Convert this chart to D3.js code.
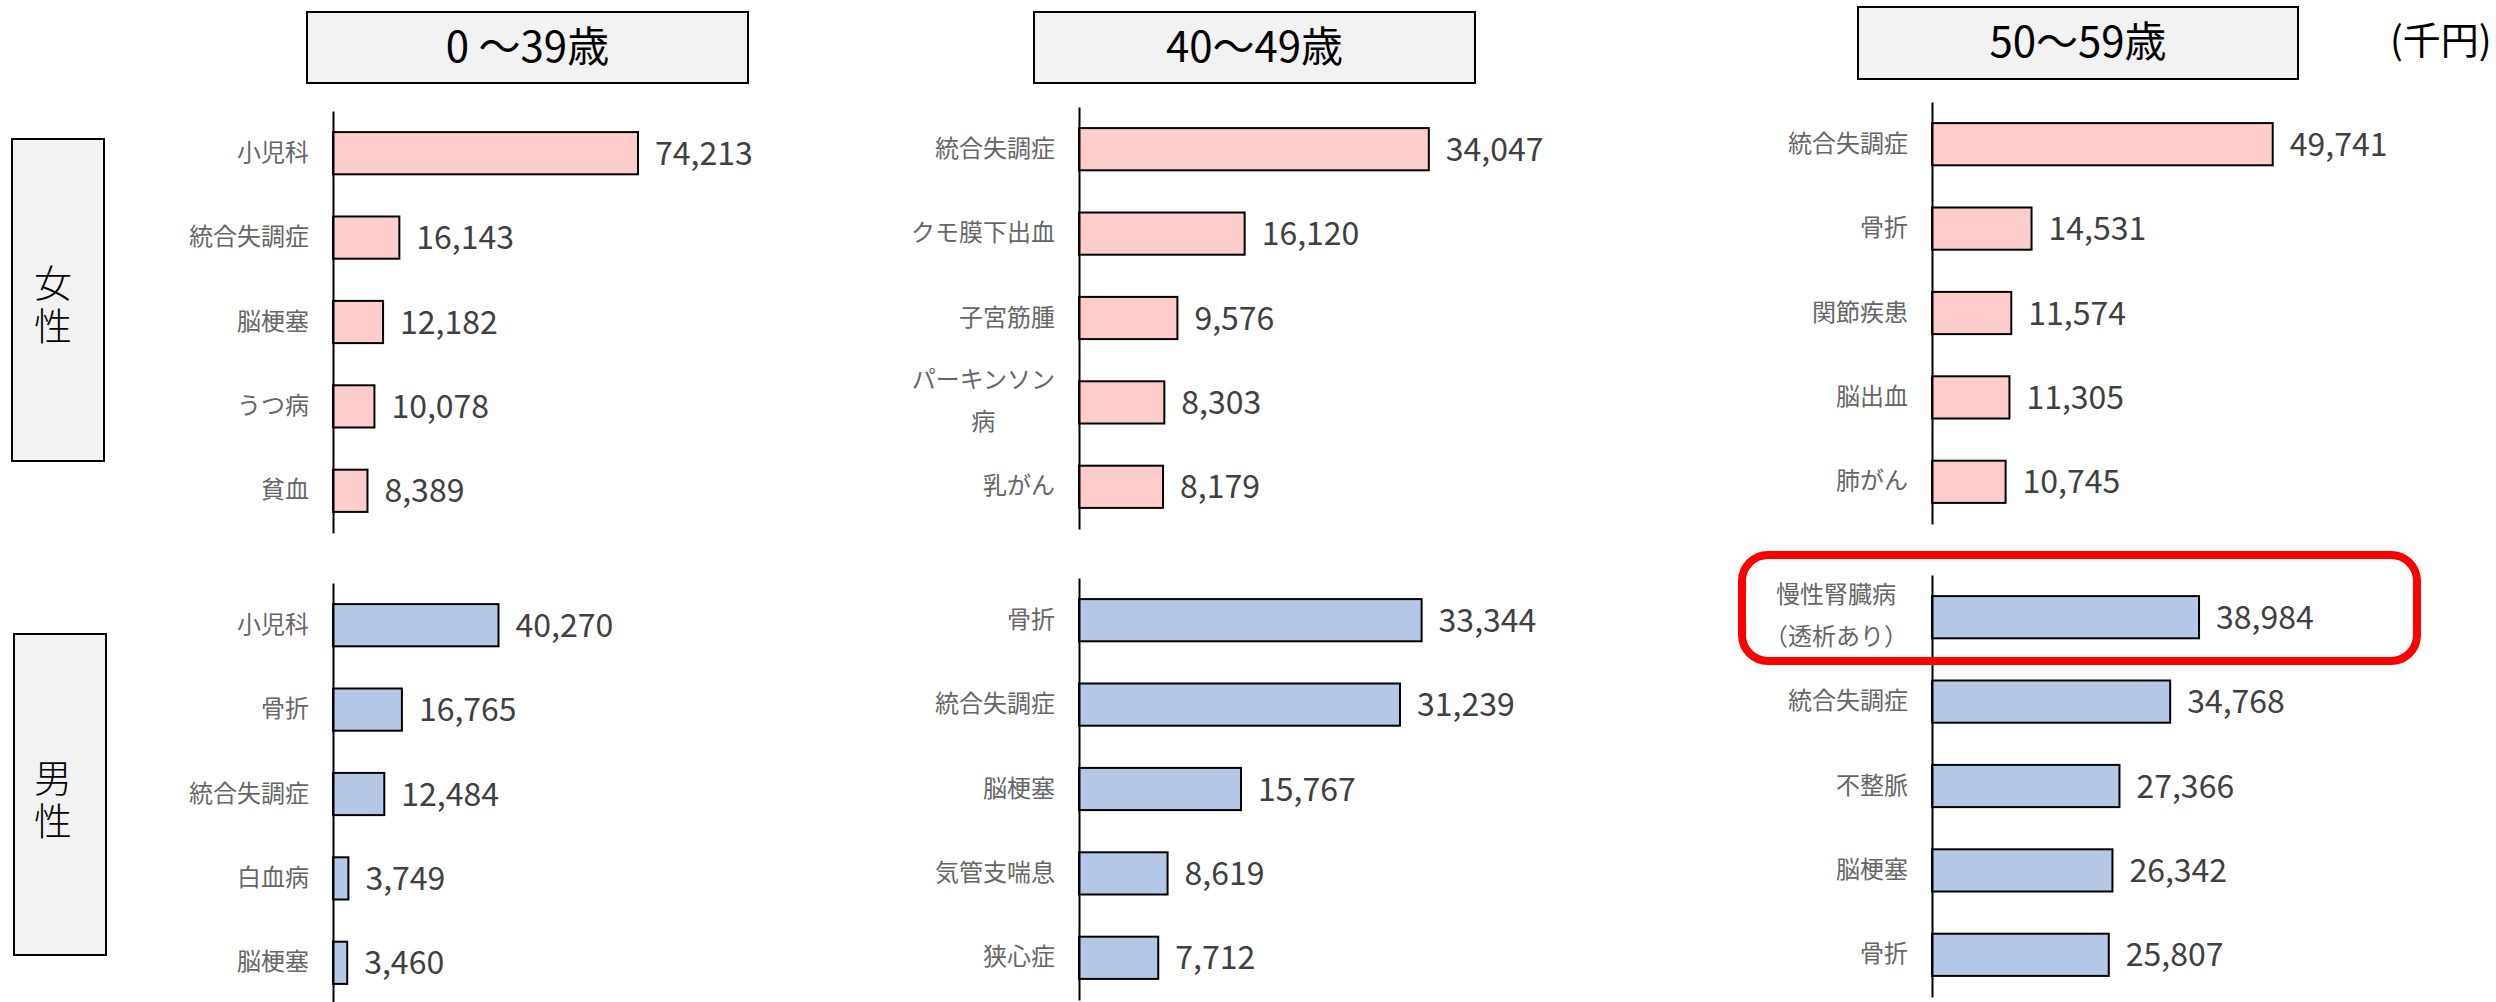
<!DOCTYPE html>
<html>
<head>
<meta charset="utf-8">
<script src="https://cdn.jsdelivr.net/npm/d3@7"></script>
<style>
  html, body { margin: 0; padding: 0; background: #fff; }
  svg { display: block; font-family: "Noto Sans CJK JP", "Noto Sans", sans-serif; }
</style>
</head>
<body>
<div class="js-canvas"></div>
<script>
'use strict';

// --- data ---
const ageGroups = ['0 ～39歳', '40～49歳', '50～59歳'];
const genders = ['女性', '男性'];
const unitLabel = '(千円)';

const f0039Cats = ['小児科', '統合失調症', '脳梗塞', 'うつ病', '貧血'];
const f0039Vals = [74213, 16143, 12182, 10078, 8389];
const m0039Cats = ['小児科', '骨折', '統合失調症', '白血病', '脳梗塞'];
const m0039Vals = [40270, 16765, 12484, 3749, 3460];

const f4049Cats = ['統合失調症', 'クモ膜下出血', '子宮筋腫', 'パーキンソン\n病', '乳がん'];
const f4049Vals = [34047, 16120, 9576, 8303, 8179];
const m4049Cats = ['骨折', '統合失調症', '脳梗塞', '気管支喘息', '狭心症'];
const m4049Vals = [33344, 31239, 15767, 8619, 7712];

const f5059Cats = ['統合失調症', '骨折', '関節疾患', '脳出血', '肺がん'];
const f5059Vals = [49741, 14531, 11574, 11305, 10745];
const m5059Cats = ['慢性腎臓病\n（透析あり）', '統合失調症', '不整脈', '脳梗塞', '骨折'];
const m5059Vals = [38984, 34768, 27366, 26342, 25807];

const axisMax = [100000, 40000, 60000];

// --- layout ---
const config = {
    width: 2496,
    height: 1002,
    plotWidth: 411,
    plotHeight: 422,
    labelPad: 24,
    valuePad: 17,
    colors: { female: '#FFCCCC', male: '#B4C7E7' }
};

const columns = [
    { axisX: 333, top: [111, 583], box: { x: 307, y: 12, w: 441, h: 71 } },
    { axisX: 1079, top: [107, 578], box: { x: 1034, y: 12, w: 441, h: 71 } },
    { axisX: 1932, top: [102, 575], box: { x: 1858, y: 7, w: 440, h: 72 } }
];

const panels = [
    [[f0039Cats, f0039Vals], [m0039Cats, m0039Vals]],
    [[f4049Cats, f4049Vals], [m4049Cats, m4049Vals]],
    [[f5059Cats, f5059Vals], [m5059Cats, m5059Vals]]
];

const svg = d3.select('.js-canvas')
    .append('svg')
    .attr('width', config.width)
    .attr('height', config.height);

svg.append('rect')
    .attr('width', config.width)
    .attr('height', config.height)
    .attr('fill', '#fff');

const fmt = d3.format(',');

columns.forEach((col, ci) => {
    // title box
    svg.append('rect')
        .attr('x', col.box.x).attr('y', col.box.y)
        .attr('width', col.box.w).attr('height', col.box.h)
        .attr('fill', '#F2F2F2')
        .attr('stroke', '#000')
        .attr('stroke-width', 2);

    svg.append('text')
        .attr('x', col.box.x + col.box.w / 2)
        .attr('y', col.box.y + 50)
        .attr('text-anchor', 'middle')
        .attr('font-size', 42)
        .attr('fill', '#000')
        .text(ageGroups[ci]);

    const x = d3.scaleLinear()
        .domain([0, axisMax[ci]])
        .range([0, config.plotWidth]);

    panels[ci].forEach(([cats, vals], gi) => {
        const data = cats.map((c, i) => ({ name: c, value: vals[i] }));
        const g = svg.append('g')
            .attr('transform', `translate(${col.axisX}, ${col.top[gi]})`);

        const y = d3.scaleBand()
            .domain(cats)
            .range([0, config.plotHeight])
            .paddingInner(0.5)
            .paddingOuter(0.25);

        g.selectAll('rect.bar')
            .data(data)
            .enter().append('rect')
            .attr('class', 'bar')
            .attr('x', 0)
            .attr('y', d => y(d.name))
            .attr('width', d => x(d.value))
            .attr('height', y.bandwidth())
            .attr('fill', gi === 0 ? config.colors.female : config.colors.male)
            .attr('stroke', '#000')
            .attr('stroke-width', 2);

        g.selectAll('text.val')
            .data(data)
            .enter().append('text')
            .attr('class', 'val')
            .attr('x', d => x(d.value) + config.valuePad)
            .attr('y', d => y(d.name) + y.bandwidth() / 2)
            .attr('dy', '0.36em')
            .attr('font-size', 32)
            .attr('fill', '#404040')
            .text(d => fmt(d.value));

        // axis line + category labels
        const axisG = g.append('g')
            .call(d3.axisLeft(y).tickSize(0).tickPadding(config.labelPad));

        axisG.select('.domain')
            .attr('stroke', '#000')
            .attr('stroke-width', 2);

        axisG.selectAll('.tick text')
            .attr('font-size', 24)
            .attr('font-family', '"Noto Sans CJK JP", sans-serif')
            .attr('fill', '#666')
            .each(function (d) {
                const lines = d.split('\n');
                if (lines.length < 2) return;
                const t = d3.select(this).text(null).attr('dy', null);
                const spans = lines.map((ln, i) => t.append('tspan')
                    .attr('dy', i === 0 ? '-0.5em' : '1.75em')
                    .text(ln));
                const w = d3.max(spans, s => s.node().getComputedTextLength());
                const cx = -config.labelPad - w / 2;
                t.attr('text-anchor', 'middle');
                spans.forEach(s => s.attr('x', cx));
                t.attr('transform', 'translate(0, -2)');
            });
    });
});

// gender boxes (vertical text)
const genderBoxes = [
    { x: 12, y: 139, w: 92, h: 322, cy: 307 },
    { x: 14, y: 634, w: 92, h: 321, cy: 802 }
];

genderBoxes.forEach((b, i) => {
    svg.append('rect')
        .attr('x', b.x).attr('y', b.y)
        .attr('width', b.w).attr('height', b.h)
        .attr('fill', '#F2F2F2')
        .attr('stroke', '#000')
        .attr('stroke-width', 2);

    svg.append('text')
        .attr('x', 53)
        .attr('y', b.cy)
        .attr('text-anchor', 'middle')
        .style('writing-mode', 'vertical-rl')
        .style('letter-spacing', '5px')
        .attr('font-size', 38)
        .attr('font-weight', 300)
        .attr('fill', '#000')
        .text(genders[i]);
});

// unit label
svg.append('text')
    .attr('x', 2390)
    .attr('y', 54)
    .attr('font-size', 38)
    .attr('fill', '#000')
    .text(unitLabel);

// highlight
svg.append('rect')
    .attr('x', 1742).attr('y', 555)
    .attr('width', 675).attr('height', 106)
    .attr('rx', 26).attr('ry', 26)
    .attr('fill', 'none')
    .attr('stroke', '#FF0000')
    .attr('stroke-width', 8);
</script>
</body>
</html>
